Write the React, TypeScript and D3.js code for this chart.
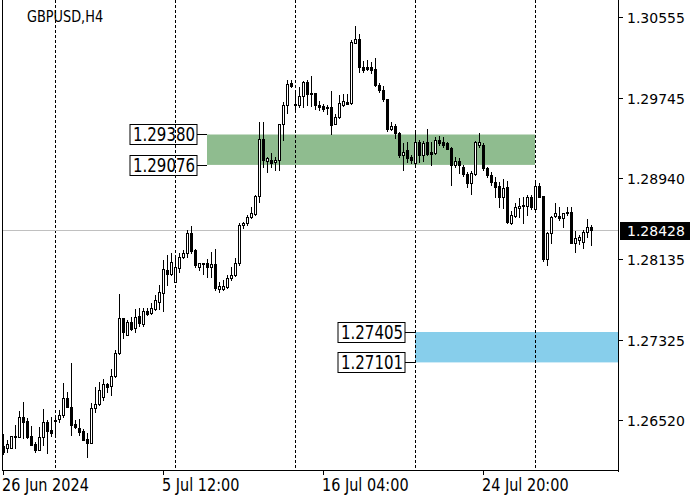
import * as d3 from "d3";

// H4 candles, [open, high, low, close]
const CANDLES: [number, number, number, number][] = [
  [1.26265, 1.26385, 1.26185, 1.26205], [1.26245, 1.26325, 1.26205, 1.26285], [1.26245, 1.26365, 1.26245, 1.26365],
  [1.26355, 1.26475, 1.26245, 1.26365], [1.26355, 1.26615, 1.26355, 1.26555], [1.26555, 1.26705, 1.26345, 1.26505],
  [1.26515, 1.26545, 1.26345, 1.26355], [1.26365, 1.26465, 1.26275, 1.26275], [1.26285, 1.26305, 1.26205, 1.26225],
  [1.26225, 1.26455, 1.26225, 1.26355], [1.26355, 1.26635, 1.26275, 1.26505], [1.26505, 1.26525, 1.26195, 1.26415],
  [1.26425, 1.26555, 1.26365, 1.26395], [1.26525, 1.26545, 1.26375, 1.26525], [1.26535, 1.26625, 1.26505, 1.26575],
  [1.26575, 1.26895, 1.26555, 1.26745], [1.26745, 1.26805, 1.26655, 1.26655], [1.26655, 1.27095, 1.26375, 1.26475],
  [1.26485, 1.26525, 1.26445, 1.26455], [1.26445, 1.26535, 1.26375, 1.26405], [1.26415, 1.26435, 1.26325, 1.26325],
  [1.26335, 1.26395, 1.26155, 1.26295], [1.26295, 1.26695, 1.26295, 1.26645], [1.26645, 1.26855, 1.26605, 1.26685],
  [1.26685, 1.26905, 1.26675, 1.26825], [1.26755, 1.26935, 1.26725, 1.26885], [1.26885, 1.26895, 1.26805, 1.26855],
  [1.26865, 1.27035, 1.26775, 1.26965], [1.26965, 1.27225, 1.26955, 1.27195], [1.27195, 1.27785, 1.27185, 1.27545],
  [1.27545, 1.27545, 1.27345, 1.27405], [1.27375, 1.27525, 1.27375, 1.27505], [1.27505, 1.27555, 1.27425, 1.27435],
  [1.27445, 1.27635, 1.27405, 1.27555], [1.27565, 1.27645, 1.27465, 1.27495], [1.27485, 1.27645, 1.27465, 1.27615],
  [1.27615, 1.27645, 1.27575, 1.27585], [1.27595, 1.27695, 1.27585, 1.27645], [1.27635, 1.27775, 1.27625, 1.27725],
  [1.27705, 1.27875, 1.27635, 1.27805], [1.27795, 1.28125, 1.27615, 1.28035], [1.28025, 1.28175, 1.27875, 1.27985],
  [1.27985, 1.28195, 1.27975, 1.28105], [1.27905, 1.28165, 1.27905, 1.28055], [1.28045, 1.28195, 1.28005, 1.28155],
  [1.28155, 1.28225, 1.28145, 1.28195], [1.28195, 1.28425, 1.28155, 1.28395], [1.28395, 1.28465, 1.28195, 1.28215],
  [1.28225, 1.28235, 1.28055, 1.28075], [1.28055, 1.28095, 1.28025, 1.28095], [1.28095, 1.28095, 1.27985, 1.28085],
  [1.28095, 1.28135, 1.27955, 1.28055], [1.28055, 1.28205, 1.27955, 1.28085], [1.28085, 1.28235, 1.27825, 1.27845],
  [1.27835, 1.27905, 1.27805, 1.27865], [1.27835, 1.27925, 1.27825, 1.27865], [1.27855, 1.27975, 1.27845, 1.27945],
  [1.27945, 1.28055, 1.27925, 1.27975], [1.27975, 1.28145, 1.27965, 1.28095], [1.28095, 1.28495, 1.28075, 1.28475],
  [1.28475, 1.28505, 1.28445, 1.28495], [1.28495, 1.28575, 1.28475, 1.28555], [1.28555, 1.28655, 1.28545, 1.28595],
  [1.28585, 1.28775, 1.28575, 1.28765], [1.28765, 1.29505, 1.28705, 1.29335], [1.29335, 1.29505, 1.29055, 1.29125],
  [1.29115, 1.29155, 1.29005, 1.29145], [1.29125, 1.29195, 1.29055, 1.29095], [1.29105, 1.29155, 1.29025, 1.29125],
  [1.29125, 1.29485, 1.29025, 1.29485], [1.29485, 1.29705, 1.29325, 1.29675], [1.29675, 1.29925, 1.29595, 1.29885],
  [1.29895, 1.29925, 1.29855, 1.29865], [1.29675, 1.29795, 1.29605, 1.29685], [1.29675, 1.29855, 1.29655, 1.29765],
  [1.29765, 1.29915, 1.29655, 1.29905], [1.29905, 1.29925, 1.29675, 1.29785], [1.29795, 1.29965, 1.29665, 1.29795],
  [1.29795, 1.29795, 1.29635, 1.29675], [1.29675, 1.29715, 1.29625, 1.29655], [1.29665, 1.29685, 1.29615, 1.29635],
  [1.29655, 1.29675, 1.29585, 1.29645], [1.29655, 1.29815, 1.29385, 1.29475], [1.29485, 1.29585, 1.29485, 1.29555],
  [1.29555, 1.29775, 1.29545, 1.29695], [1.29675, 1.29785, 1.29665, 1.29715], [1.29705, 1.29785, 1.29685, 1.29685],
  [1.29695, 1.30325, 1.29685, 1.30305], [1.30295, 1.30465, 1.30295, 1.30335], [1.30335, 1.30385, 1.30005, 1.30055],
  [1.30055, 1.30115, 1.30005, 1.30025], [1.30055, 1.30125, 1.30025, 1.30035], [1.30055, 1.30105, 1.29995, 1.30025],
  [1.30035, 1.30145, 1.29865, 1.29875], [1.29875, 1.29895, 1.29805, 1.29825], [1.29825, 1.29865, 1.29715, 1.29735],
  [1.29735, 1.29735, 1.29415, 1.29435], [1.29435, 1.29505, 1.29425, 1.29465], [1.29465, 1.29485, 1.29345, 1.29395],
  [1.29395, 1.29405, 1.29155, 1.29175], [1.29175, 1.29295, 1.29025, 1.29205], [1.29225, 1.29305, 1.29105, 1.29145],
  [1.29155, 1.29175, 1.29095, 1.29125], [1.29095, 1.29395, 1.29075, 1.29305], [1.29305, 1.29325, 1.29105, 1.29175],
  [1.29175, 1.29315, 1.29115, 1.29295], [1.29305, 1.29435, 1.29175, 1.29185], [1.29205, 1.29305, 1.29075, 1.29185],
  [1.29195, 1.29355, 1.29185, 1.29325], [1.29325, 1.29365, 1.29275, 1.29295], [1.29305, 1.29355, 1.29255, 1.29275],
  [1.29295, 1.29305, 1.29235, 1.29235], [1.29245, 1.29255, 1.28875, 1.29075], [1.29075, 1.29155, 1.29055, 1.29115],
  [1.29115, 1.29145, 1.28995, 1.29075], [1.29055, 1.29075, 1.28965, 1.28985], [1.28985, 1.29005, 1.28855, 1.28895],
  [1.28895, 1.29015, 1.28785, 1.28995], [1.28985, 1.29315, 1.28975, 1.29305], [1.29275, 1.29395, 1.29255, 1.29305],
  [1.29275, 1.29295, 1.29025, 1.29045], [1.29045, 1.29055, 1.28955, 1.28975], [1.28975, 1.29005, 1.28875, 1.28905],
  [1.28905, 1.28955, 1.28755, 1.28855], [1.28865, 1.28905, 1.28655, 1.28755], [1.28755, 1.28935, 1.28645, 1.28845],
  [1.28855, 1.28915, 1.28495, 1.28505], [1.28495, 1.28615, 1.28485, 1.28575], [1.28565, 1.28695, 1.28555, 1.28655],
  [1.28645, 1.28745, 1.28555, 1.28665], [1.28675, 1.28755, 1.28495, 1.28665], [1.28665, 1.28775, 1.28575, 1.28755],
  [1.28755, 1.28775, 1.28635, 1.28655], [1.28635, 1.28895, 1.28625, 1.28865], [1.28865, 1.28895, 1.28755, 1.28755],
  [1.28765, 1.28765, 1.28115, 1.28135], [1.28135, 1.28405, 1.28075, 1.28395], [1.28395, 1.28565, 1.28295, 1.28555],
  [1.28565, 1.28695, 1.28555, 1.28595], [1.28565, 1.28655, 1.28525, 1.28545], [1.28545, 1.28595, 1.28455, 1.28595],
  [1.28605, 1.28655, 1.28575, 1.28595], [1.28605, 1.28655, 1.28295, 1.28295], [1.28295, 1.28415, 1.28205, 1.28345],
  [1.28325, 1.28375, 1.28285, 1.28355], [1.28305, 1.28425, 1.28245, 1.28405], [1.28405, 1.28535, 1.28355, 1.28455],
  [1.28455, 1.28475, 1.28275, 1.28428],
];

const Y_TICKS = [1.30555, 1.29745, 1.2894, 1.28135, 1.27325, 1.2652];
const GRID_BARS = [13, 43, 73, 103, 133];
const DATE_BARS = [0, 40, 80, 120];
const DATE_LABELS = ["26 Jun 2024", "5 Jul 12:00", "16 Jul 04:00", "24 Jul 20:00"];
const LAST_PRICE = 1.28428;
const SELL_ZONE = [1.2938, 1.29076];
const BUY_ZONE = [1.27405, 1.27101];
const SELL_FROM = 51;
const SELL_TO = 133;
const BUY_FROM = 103;

const FONT = "'DejaVu Sans', Verdana, sans-serif";
const NARROW = 0.85; // squeeze DejaVu towards a Tahoma-like width

export default function App() {
  const left = 2;
  const right = 618;
  const bottom = 471;

  const x = d3.scaleLinear().domain([0, CANDLES.length - 1]).range([3, 3 + 4 * (CANDLES.length - 1)]);
  const y = d3.scaleLinear().domain([1.26025, 1.30725]).range([470, 0]);
  const px = (v: number) => Math.round(v) + 0.5;
  const fmt = d3.format(".5f");

  const narrowText = (tx: number, ty: number, size: number, s: string, squeeze = NARROW) => (
    <text transform={`translate(${tx},${ty}) scale(${squeeze},1)`} fontSize={size} fontFamily={FONT}>{s}</text>
  );

  // zone boxes with their price tags on the left
  const zone = (prices: number[], from: number, to: number, fill: string) => {
    const x0 = x(from);
    const x1 = to < 0 ? right : x(to);
    const tagRight = x0 - 10;
    return (
      <g>
        <rect x={x0} y={y(prices[0])} width={x1 - x0} height={y(prices[1]) - y(prices[0])} fill={fill} />
        {prices.map((p) => (
          <g key={p}>
            <line x1={tagRight} x2={x0} y1={px(y(p))} y2={px(y(p))} stroke="#000" />
            <rect x={tagRight - 67} y={Math.round(y(p)) - 9.5} width={67} height={20} fill="#fff" stroke="#000" />
            {narrowText(tagRight - 64, Math.round(y(p)) + 7, 19, fmt(p), 0.79)}
          </g>
        ))}
      </g>
    );
  };

  return (
    <svg width={700} height={500} style={{ position: "absolute", left: 0, top: 0, background: "#fff" }}>
      {zone(SELL_ZONE, SELL_FROM, SELL_TO, "#8fbc8f")}
      {zone(BUY_ZONE, BUY_FROM, -1, "#87ceeb")}

      {GRID_BARS.map((b) => (
        <line key={b} x1={px(x(b))} x2={px(x(b))} y1={0} y2={bottom} stroke="#000" strokeDasharray="3,2" />
      ))}

      <line x1={left} x2={right} y1={px(y(LAST_PRICE))} y2={px(y(LAST_PRICE))} stroke="#c0c0c0" />

      {CANDLES.map(([o, h, l, c], i) => {
        const cx = Math.round(x(i));
        const top = Math.round(y(Math.max(o, c)));
        const bot = Math.round(y(Math.min(o, c)));
        return (
          <g key={i}>
            <line x1={cx + 0.5} x2={cx + 0.5} y1={Math.round(y(h))} y2={Math.round(y(l)) + 1} stroke="#000" />
            <rect x={cx - 0.5} y={top + 0.5} width={2} height={Math.max(bot - top, 1)}
              fill={c >= o ? "#fff" : "#000"} stroke="#000" />
          </g>
        );
      })}

      {narrowText(27, 22, 15, "GBPUSD,H4", 0.86)}

      {/* frame */}
      <line x1={left + 0.5} x2={left + 0.5} y1={0} y2={bottom} stroke="#000" />
      <line x1={right + 0.5} x2={right + 0.5} y1={0} y2={bottom + 1} stroke="#000" />
      <line x1={left} x2={right + 1} y1={bottom - 0.5} y2={bottom - 0.5} stroke="#000" />

      {/* price axis */}
      {Y_TICKS.map((t) => (
        <g key={t}>
          <line x1={right} x2={right + 5} y1={px(y(t))} y2={px(y(t))} stroke="#000" />
          <text x={627} y={Math.round(y(t)) + 6} fontSize={14} fontFamily={FONT}>{fmt(t)}</text>
        </g>
      ))}
      <rect x={620} y={Math.round(y(LAST_PRICE)) - 8} width={70} height={18} fill="#000" />
      <text x={627} y={Math.round(y(LAST_PRICE)) + 6} fontSize={14} fontFamily={FONT} fill="#fff">{fmt(LAST_PRICE)}</text>

      {/* time axis */}
      {DATE_BARS.map((b, k) => (
        <g key={b}>
          <line x1={px(x(b))} x2={px(x(b))} y1={bottom} y2={bottom + 4} stroke="#000" />
          {narrowText(x(b) - 1, 491, 17, DATE_LABELS[k])}
        </g>
      ))}
    </svg>
  );
}
